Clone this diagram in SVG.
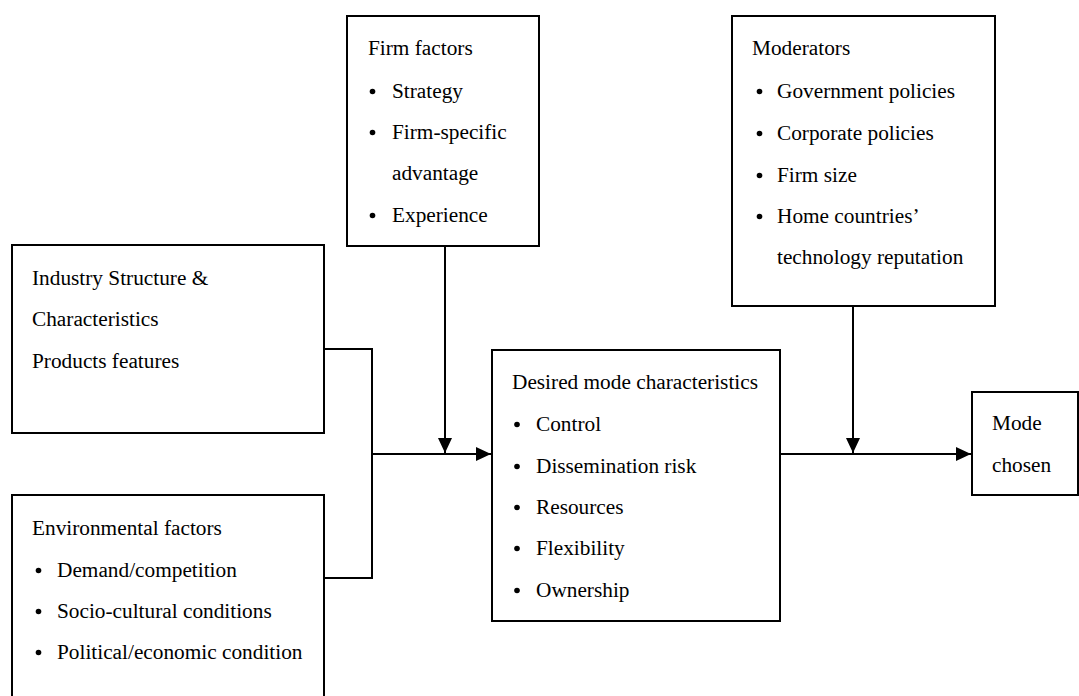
<svg xmlns="http://www.w3.org/2000/svg" width="1079" height="696" viewBox="0 0 1079 696">
<defs>
<style>
.box{fill:#fff;stroke:#000;stroke-width:2}
.t{font-family:"Liberation Serif","Times New Roman",serif;font-size:21.3px;fill:#000}
.b{fill:#000}
.c{fill:none;stroke:#000;stroke-width:2}
</style>
<marker id="arr" markerUnits="userSpaceOnUse" markerWidth="16" markerHeight="14" refX="15" refY="7" orient="auto">
<path d="M0,0 L15,7 L0,14 z" fill="#000"/>
</marker>
</defs>
<rect width="1079" height="696" fill="#fff"/>
<g id="connectors">
<path class="c" d="M324 349 H372 V578 H324"/>
<path class="c" d="M372 454 H491" marker-end="url(#arr)"/>
<path class="c" d="M445 246 V453" marker-end="url(#arr)"/>
<path class="c" d="M780 454 H971" marker-end="url(#arr)"/>
<path class="c" d="M853 306 V453" marker-end="url(#arr)"/>
</g>
<g id="industry">
<rect class="box" x="12" y="245" width="312" height="188"/>
<text class="t" x="32" y="285">Industry Structure &amp;</text>
<text class="t" x="32" y="326">Characteristics</text>
<text class="t" x="32" y="368">Products features</text>
</g>
<g id="environment">
<rect class="box" x="12" y="495" width="312" height="230"/>
<text class="t" x="32" y="535">Environmental factors</text>
<circle class="b" cx="38.5" cy="570.5" r="2.8"/>
<text class="t" x="57" y="577">Demand/competition</text>
<circle class="b" cx="38.5" cy="611.5" r="2.8"/>
<text class="t" x="57" y="618">Socio-cultural conditions</text>
<circle class="b" cx="38.5" cy="652.5" r="2.8"/>
<text class="t" x="57" y="659">Political/economic condition</text>
</g>
<g id="firm">
<rect class="box" x="347" y="16" width="192" height="230"/>
<text class="t" x="368" y="55">Firm factors</text>
<circle class="b" cx="372.5" cy="91.5" r="2.8"/>
<text class="t" x="392" y="98">Strategy</text>
<circle class="b" cx="372.5" cy="132.5" r="2.8"/>
<text class="t" x="392" y="139">Firm-specific</text>
<text class="t" x="392" y="180">advantage</text>
<circle class="b" cx="372.5" cy="215.5" r="2.8"/>
<text class="t" x="392" y="222">Experience</text>
</g>
<g id="moderators">
<rect class="box" x="732" y="16" width="263" height="290"/>
<text class="t" x="752" y="55">Moderators</text>
<circle class="b" cx="759.5" cy="91.5" r="2.8"/>
<text class="t" x="777" y="98">Government policies</text>
<circle class="b" cx="759.5" cy="133.5" r="2.8"/>
<text class="t" x="777" y="140">Corporate policies</text>
<circle class="b" cx="759.5" cy="175.5" r="2.8"/>
<text class="t" x="777" y="182">Firm size</text>
<circle class="b" cx="759.5" cy="216.5" r="2.8"/>
<text class="t" x="777" y="223">Home countries’</text>
<text class="t" x="777" y="264">technology reputation</text>
</g>
<g id="desired">
<rect class="box" x="492" y="350" width="288" height="271"/>
<text class="t" x="512" y="389">Desired mode characteristics</text>
<circle class="b" cx="517" cy="424.5" r="2.8"/>
<text class="t" x="536" y="431">Control</text>
<circle class="b" cx="517" cy="466.5" r="2.8"/>
<text class="t" x="536" y="473">Dissemination risk</text>
<circle class="b" cx="517" cy="507.5" r="2.8"/>
<text class="t" x="536" y="514">Resources</text>
<circle class="b" cx="517" cy="548.5" r="2.8"/>
<text class="t" x="536" y="555">Flexibility</text>
<circle class="b" cx="517" cy="590.5" r="2.8"/>
<text class="t" x="536" y="597">Ownership</text>
</g>
<g id="mode">
<rect class="box" x="972" y="392" width="106" height="103"/>
<text class="t" x="992" y="430">Mode</text>
<text class="t" x="992" y="472">chosen</text>
</g>
</svg>
